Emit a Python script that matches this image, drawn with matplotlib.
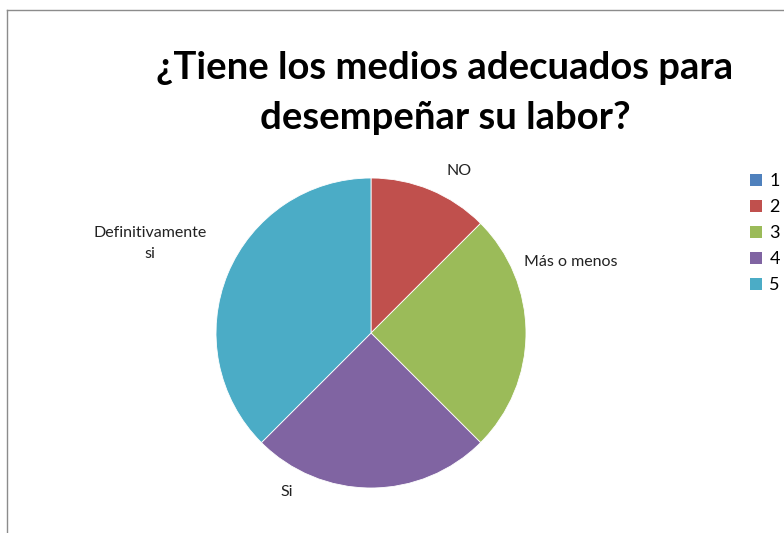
import numpy as np
import matplotlib.pyplot as plt
from matplotlib.lines import Line2D
from matplotlib.patches import Patch

# answers to the survey question
categories = ["1", "2", "3", "4", "5"]
answer_names = ["", "NO", "Más o menos", "Si", "Definitivamente\nsi"]
values = [0, 1, 2, 2, 3]
colors = ["#4F81BD", "#C0504D", "#9BBB59", "#8064A2", "#4BACC6"]

plt.rcParams['font.family'] = ['Lato', 'DejaVu Sans']

W, H = 784, 533
cx, cy, R = 371, 333, 155   # pie centre / radius in pixels

fig = plt.figure(figsize=(W / 100, H / 100), dpi=100)
ax = fig.add_axes([0, 0, 1, 1])

wedges, _ = ax.pie(values, colors=colors, startangle=90, counterclock=False,
                   radius=1.0, wedgeprops=dict(linewidth=0.6, edgecolor="white"))

# one data unit = one pie radius
ax.set_xlim(-cx / R, (W - cx) / R)
ax.set_ylim(-(H - cy) / R, cy / R)
ax.set_aspect('auto')
ax.axis('off')

# label placement: (distance in radii, angular nudge in degrees, ccw)
label_pos = [(1.2, 0), (1.19, -6), (1.37, 19.5), (1.16, -28), (1.54, 0.5)]
for w, name, (dist, nudge) in zip(wedges, answer_names, label_pos):
    if not name:
        continue
    ang = np.deg2rad((w.theta1 + w.theta2) / 2 + nudge)
    ax.text(dist * np.cos(ang), dist * np.sin(ang), name, ha='center', va='center',
            fontsize=11.5, color='#222222', linespacing=1.6)

fig.text(445 / W, 1 - 68 / H, "¿Tiene los medios adecuados para", ha='center', va='center',
         fontsize=27.5, fontweight='bold', color='black')
fig.text(445 / W, 1 - 118 / H, "desempeñar su labor?", ha='center', va='center',
         fontsize=27.5, fontweight='bold', color='black')

handles = [Patch(facecolor=c, edgecolor='none') for c in colors]
leg = fig.legend(handles, categories, loc='upper left', bbox_to_anchor=(750 / W, 1 - 173 / H),
                 frameon=False, fontsize=13, handlelength=0.67, handleheight=0.67,
                 handletextpad=0.4, labelspacing=0.56, borderaxespad=0, borderpad=0)

# chart frame edges
fig.add_artist(Line2D([7 / W, 7 / W], [0, 1 - 10 / H], transform=fig.transFigure,
                      color='#8c8c8c', linewidth=1))
fig.add_artist(Line2D([7 / W, 1], [1 - 10 / H, 1 - 10 / H], transform=fig.transFigure,
                      color='#8c8c8c', linewidth=1))

fig.savefig("out.png", dpi=100)
